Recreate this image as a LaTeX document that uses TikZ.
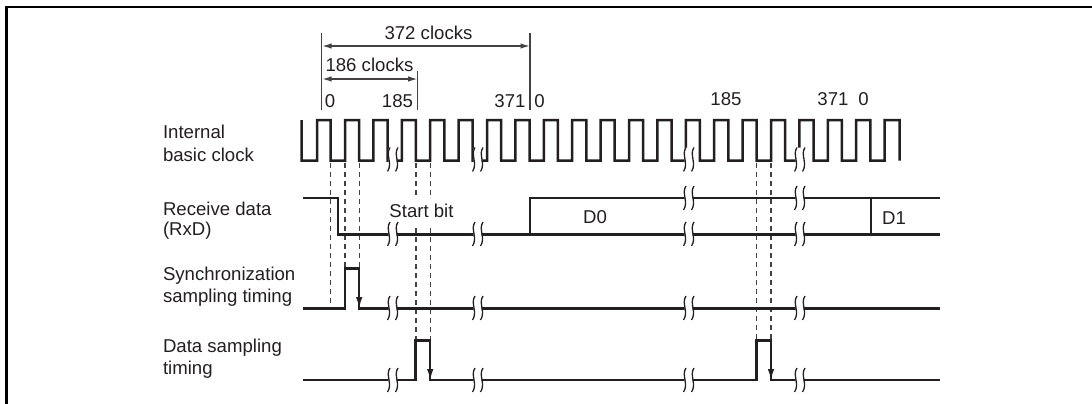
\documentclass[tikz,border=0pt]{standalone}
\usepackage{fontspec}
\setmainfont{Liberation Sans}
\usetikzlibrary{arrows.meta}
\definecolor{ink}{HTML}{231F20}
\tikzset{
  x=1pt,y=-1pt,
  frameline/.style={draw=black,line width=2.2pt},
  sigline/.style={draw=ink,line width=2.5pt,line join=miter},
  thinline/.style={draw=ink!85,line width=1.1pt},
  dimline/.style={draw=ink!85,line width=1.1pt,{Latex[length=9pt,width=5.5pt]}-{Latex[length=9pt,width=5.5pt]}},
  dashline/.style={draw=ink!85,line width=1.3pt,dash pattern=on 4.5pt off 4.5pt},
  wave/.style={draw=ink,line width=1.3pt},
  gapfill/.style={fill=white,draw=none},
  lbl/.style={font=\fontsize{18.6}{22}\selectfont,text=ink,inner sep=0pt,outer sep=0pt},
  rowlbl/.style={lbl,anchor=west,align=left},
  pulsearrow/.style={-{Latex[length=12pt,width=6.5pt]},draw=ink,line width=2.2pt},
}
\newcommand{\brk}[2]{%
  \fill[gapfill] (#1+1,#2-12) .. controls (#1-2,#2-6) and (#1+3,#2+4) .. (#1-0.5,#2+12)
     -- (#1+7.5,#2+12) .. controls (#1+11,#2+4) and (#1+6,#2-6) .. (#1+9,#2-12) -- cycle;
  \draw[wave] (#1+2,#2-12) .. controls (#1-3,#2-5) and (#1+5,#2+4) .. (#1-0.5,#2+12);
  \draw[wave] (#1+10,#2-12) .. controls (#1+5,#2-5) and (#1+13,#2+4) .. (#1+7.5,#2+12);
}
\begin{document}
\begin{tikzpicture}
\useasboundingbox (0,0) rectangle (1092,404);
% frame
\draw[frameline] (6.5,404) -- (6.5,7) -- (1092,7);
% dimension guides
\coordinate (g0t) at (321.7,33); \coordinate (g0b) at (321.7,110);
\coordinate (g1t) at (417.7,71); \coordinate (g1b) at (417.7,110);
\coordinate (g2t) at (530,33);   \coordinate (g2b) at (530,110);
\draw[thinline] (g0t)--(g0b);
\draw[thinline] (g1t)--(g1b);
\draw[thinline] (g2t)--(g2b);
\coordinate (a372l) at (322.5,46); \coordinate (a372r) at (529.5,46);
\coordinate (a186l) at (322.5,79); \coordinate (a186r) at (417.2,79);
\draw[dimline] (a372l)--(a372r);
\draw[dimline] (a186l)--(a186r);
\node[lbl] (t372) at (428.5,33) {372 clocks};
\node[lbl] (t186) at (369.5,65) {186 clocks};
\node[lbl] (n0a) at (330,101) {0};
\node[lbl] (n185a) at (397.5,101) {185};
\node[lbl] (n371a) at (510,101) {371};
\node[lbl] (n0b) at (539.5,101) {0};
\node[lbl] (n185b) at (726,99) {185};
\node[lbl] (n371b) at (833,99) {371};
\node[lbl] (n0c) at (863.5,99) {0};
% row labels
\node[rowlbl] (l1) at (163,132) {Internal};
\node[rowlbl] (l1b) at (163,154.5) {basic clock};
\node[rowlbl] (l2) at (163,208.5) {Receive data};
\node[rowlbl] (l2b) at (163,231) {(RxD)};
\node[rowlbl] (l3) at (163,276) {Synchronization};
\node[rowlbl] (l3b) at (163,297.5) {sampling timing};
\node[rowlbl] (l4) at (163,348) {Data sampling};
\node[rowlbl] (l4b) at (163,370) {timing};
% dashed
\foreach \x/\yy in {330.7/308,345/268,359.2/268,756.7/340,771/340}
  \draw[dashline] (\x,163) -- (\x,\yy);
\foreach \x in {416,430.2} {
  \draw[dashline] (\x,163) -- (\x,199);
  \draw[dashline] (\x,228) -- (\x,340);
}
% clock
\draw[sigline] (301.5,120) -- (301.5,160.5) -- (317,160.5) -- (317,120) -- (330.7,120)
  \foreach \k in {0,...,19} {
    -- ({330.7+28.4*\k},160.5) -- ({345+28.4*\k},160.5) -- ({345+28.4*\k},120) -- ({359.1+28.4*\k},120)
  } -- (899.7,120) -- (899.7,160.5);
% data
\draw[sigline] (303,198) -- (338,198) -- (338,234.3) -- (940,234.3);
\draw[sigline] (530,234.3) -- (530,198) -- (940,198);
\draw[sigline] (871,198) -- (871,234.3);
\node[lbl] (tsb) at (421.5,210.5) {Start bit};
\node[lbl] (td0) at (595,217.5) {D0};
\node[lbl] (td1) at (894,218) {D1};
% sync sampling
\draw[sigline] (303,308.3) -- (345,308.3) -- (345,268.3) -- (359.2,268.3) -- (359.2,308.3) -- (940,308.3);
\draw[pulsearrow] (359.2,285) -- (359.2,309);
% data sampling
\draw[sigline] (303,380) -- (415.7,380) -- (415.7,340.7) -- (430.2,340.7) -- (430.2,380) -- (756.7,380)
  -- (756.7,340.7) -- (771,340.7) -- (771,380) -- (940,380);
\draw[pulsearrow] (430.2,357) -- (430.2,381);
\draw[pulsearrow] (771,357) -- (771,381);
% breaks
\foreach \x in {388,473,684,795} {
  \brk{\x}{159.5}
  \brk{\x}{234}
  \brk{\x}{308}
  \brk{\x}{380}
}
\foreach \x in {684,795} { \brk{\x}{198} }
\end{tikzpicture}
\end{document}
